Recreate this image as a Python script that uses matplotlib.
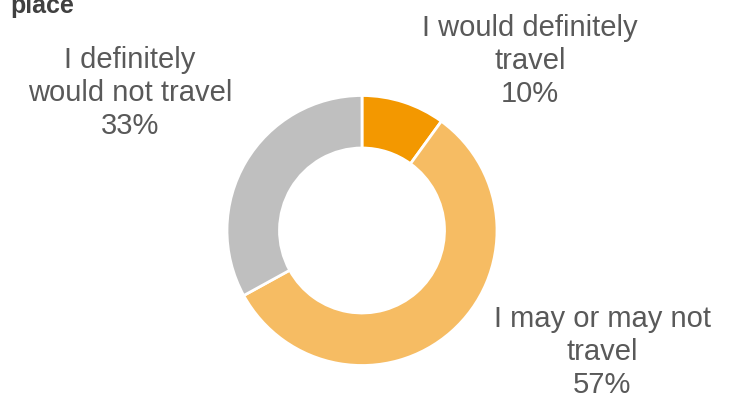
import matplotlib.pyplot as plt

plt.rcParams['font.family'] = ['Liberation Sans', 'DejaVu Sans']

labels = ["I would definitely\ntravel", "I may or may not\ntravel", "I definitely\nwould not travel"]
shares = [10, 57, 33]
colors = ["#F39800", "#F6BC63", "#BFBFBF"]

# label anchor points (pixel coords, origin bottom-left)
label_pos = [(530, 398 - 61), (602, 398 - 352), (130, 398 - 93)]

fig = plt.figure(figsize=(7.39, 3.98), dpi=100)
ax = fig.add_axes([0, 0, 1, 1])

ax.pie(shares, colors=colors, startangle=90, counterclock=False,
       center=(362, 398 - 230.5), radius=135, frame=True,
       wedgeprops=dict(width=52.5, edgecolor="white", linewidth=2))
ax.set_xlim(0, 739)
ax.set_ylim(0, 398)
ax.set_aspect("equal")
ax.axis("off")

for lab, v, (x, y) in zip(labels, shares, label_pos):
    ax.text(x, y, f"{lab}\n{v}%", ha="center", va="center",
            fontsize=21, color="#595959", linespacing=1.22)

# title sits partly above the top edge
fig.text(10 / 739, 1 - 13 / 398, "place", fontsize=18, fontweight="bold",
         color="#404040", ha="left", va="baseline")

fig.savefig("out.png", dpi=100)
